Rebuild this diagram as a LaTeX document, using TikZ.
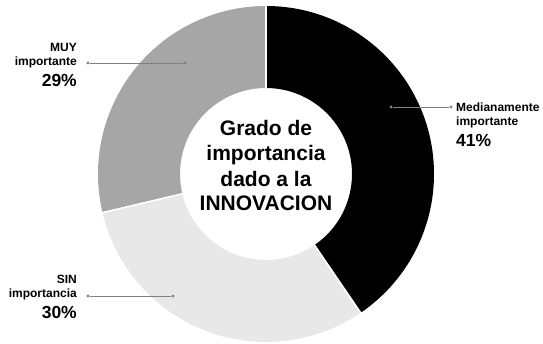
\documentclass[tikz,border=0pt]{standalone}
\usepackage{fontspec}
\setmainfont{Liberation Sans}
\definecolor{segblack}{HTML}{000000}
\definecolor{seglight}{HTML}{E8E8E8}
\definecolor{segdark}{HTML}{A6A6A6}
\definecolor{leader}{HTML}{808080}
\begin{document}
\begin{tikzpicture}[x=1pt,y=1pt,
  lbl/.style={inner sep=0pt,font=\bfseries\fontsize{12}{14}\selectfont},
  pct/.style={inner sep=0pt,font=\bfseries\fontsize{17.5}{20}\selectfont},
  ctr/.style={inner sep=0pt,anchor=base,font=\bfseries\fontsize{21}{25}\selectfont},
  dot/.style={circle,fill=leader,inner sep=0pt,minimum size=3.2pt},
  leadline/.style={draw=leader,line width=0.8pt},
  sep/.style={draw=white,line width=1.6pt}]
\useasboundingbox (0,0) rectangle (543,343);
\coordinate (c) at (266,169);
\def\R{168}\def\r{86}
\def\aA{90}\def\aB{-55.7}\def\aC{-166.7}
% sectors
\fill[segblack] ([shift={(\aA:\R)}]c) arc[start angle=\aA,end angle=\aB,radius=\R]
  -- ([shift={(\aB:\r)}]c) arc[start angle=\aB,end angle=\aA,radius=\r] -- cycle;
\fill[seglight] ([shift={(\aB:\R)}]c) arc[start angle=\aB,end angle=\aC,radius=\R]
  -- ([shift={(\aC:\r)}]c) arc[start angle=\aC,end angle=\aB,radius=\r] -- cycle;
\fill[segdark] ([shift={(\aC:\R)}]c) arc[start angle=\aC,end angle=-270,radius=\R]
  -- ([shift={(-270:\r)}]c) arc[start angle=-270,end angle=\aC,radius=\r] -- cycle;
% separators
\draw[sep] ([shift={(\aA:\r-1)}]c) -- ([shift={(\aA:\R+1)}]c);
\draw[sep] ([shift={(\aB:\r-1)}]c) -- ([shift={(\aB:\R+1)}]c);
\draw[sep] ([shift={(\aC:\r-1)}]c) -- ([shift={(\aC:\R+1)}]c);
% centre text
\node[ctr] (t1) at (266,207) {Grado de};
\node[ctr] (t2) at (266,182) {importancia};
\node[ctr] (t3) at (266,157) {dado a la};
\node[ctr] (t4) at (266,133) {INNOVACION};
% MUY importante
\node[lbl,anchor=base east] (muy1) at (77,291) {MUY};
\node[lbl,anchor=base east] (muy2) at (77,277) {importante};
\node[pct,anchor=base east] (muy3) at (77,256) {29\%};
\node[dot] (muyd1) at (88,280) {};
\node[dot] (muyd2) at (185,280) {};
\draw[leadline] (muyd1) -- (muyd2);
% Medianamente importante
\node[lbl,anchor=base west] (med1) at (456,231) {Medianamente};
\node[lbl,anchor=base west] (med2) at (456,217) {importante};
\node[pct,anchor=base west] (med3) at (456,196) {41\%};
\node[dot] (medd1) at (391,236) {};
\node[dot] (medd2) at (451,236) {};
\draw[leadline] (medd1) -- (medd2);
% SIN importancia
\node[lbl,anchor=base east] (sin1) at (77,60) {SIN};
\node[lbl,anchor=base east] (sin2) at (77,46) {importancia};
\node[pct,anchor=base east] (sin3) at (77,25) {30\%};
\node[dot] (sind1) at (88,47) {};
\node[dot] (sind2) at (173,47) {};
\draw[leadline] (sind1) -- (sind2);
\end{tikzpicture}
\end{document}
